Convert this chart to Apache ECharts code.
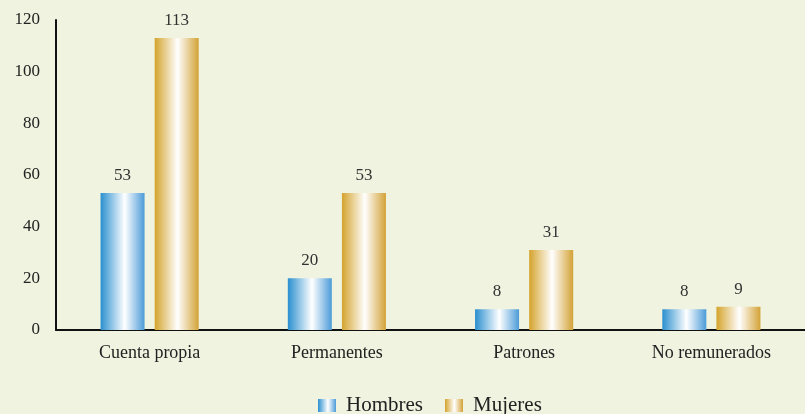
<!DOCTYPE html>
<html>
<head>
<meta charset="utf-8">
<script src="https://cdn.jsdelivr.net/npm/echarts@6/dist/echarts.min.js"></script>
<style>
  html, body { margin: 0; padding: 0; background: #eff3df; }
  #chart { width: 805px; height: 414px; }
</style>
</head>
<body>
<div id="chart"></div>
<script>
const categories = ['Cuenta propia', 'Permanentes', 'Patrones', 'No remunerados'];
const hombres = [53, 20, 8, 8];
const mujeres = [113, 53, 31, 9];
const yTicks = { min: 0, max: 120, interval: 20 };

// Horizontal "cylinder" shading: coloured edges with a white highlight
function barGradient(edgeL, edgeR, mid) {
  return new echarts.graphic.LinearGradient(0, 0, 1, 0, [
    { offset: 0, color: edgeL },
    { offset: mid, color: '#ffffff' },
    { offset: 1, color: edgeR }
  ]);
}

const blueFill = barGradient('#2a8fcf', '#4b9bd8', 0.55);
const goldFill = barGradient('#d4a32c', '#d3a236', 0.52);
const serif = '"Liberation Serif", "Times New Roman", serif';

const chart = echarts.init(document.getElementById('chart'), null, { renderer: 'canvas' });
chart.setOption({
  backgroundColor: '#eff3df',
  animation: false,
  textStyle: { fontFamily: serif },
  grid: { left: 56, right: 0, top: 20, bottom: 84, containLabel: false },
  legend: {
    top: 390,
    left: 313,
    itemWidth: 18,
    itemHeight: 13,
    itemGap: 22,
    textStyle: { fontFamily: serif, fontSize: 21, color: '#222', padding: [0, 0, 0, 5] },
    data: [
      { name: 'Hombres', icon: 'rect', itemStyle: { color: blueFill } },
      { name: 'Mujeres', icon: 'rect', itemStyle: { color: goldFill } }
    ]
  },
  xAxis: {
    type: 'category',
    data: categories,
    axisLine: { lineStyle: { color: '#111', width: 2 } },
    axisTick: { show: false },
    axisLabel: { fontFamily: serif, fontSize: 18, color: '#222', margin: 14 }
  },
  yAxis: {
    type: 'value',
    min: yTicks.min,
    max: yTicks.max,
    interval: yTicks.interval,
    axisLine: { show: true, lineStyle: { color: '#111', width: 2 } },
    axisTick: { show: false },
    splitLine: { show: false },
    axisLabel: { fontFamily: serif, fontSize: 17, color: '#222', margin: 16 }
  },
  series: [
    {
      name: 'Hombres',
      type: 'bar',
      data: hombres,
      barWidth: 44,
      barGap: '23%',
      itemStyle: { color: blueFill },
      label: { show: true, position: 'top', distance: 9, fontFamily: serif, fontSize: 17, color: '#333' }
    },
    {
      name: 'Mujeres',
      type: 'bar',
      data: mujeres,
      barWidth: 44,
      itemStyle: { color: goldFill },
      label: { show: true, position: 'top', distance: 9, fontFamily: serif, fontSize: 17, color: '#333' }
    }
  ]
});
</script>
</body>
</html>
